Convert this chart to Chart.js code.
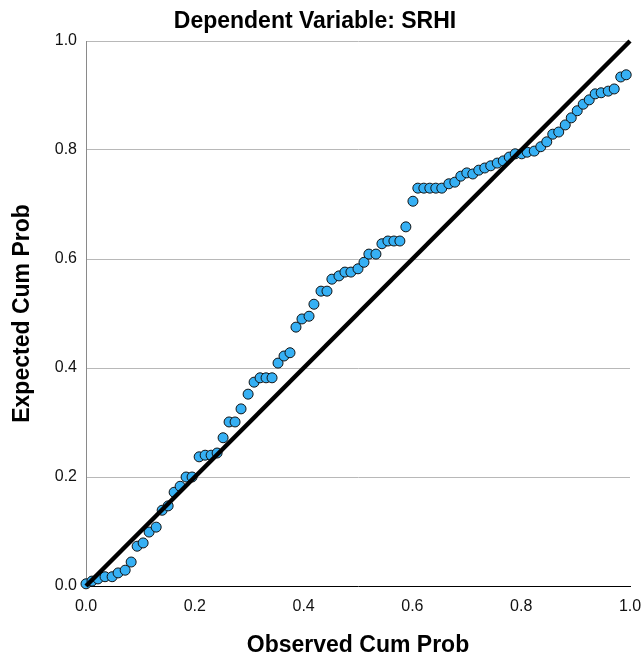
<!DOCTYPE html>
<html>
<head>
<meta charset="utf-8">
<script src="https://cdn.jsdelivr.net/npm/chart.js@4/dist/chart.umd.min.js"></script>
<style>
  html, body { margin: 0; padding: 0; background: #fff; }
  #wrap { width: 644px; height: 663px; }
</style>
</head>
<body>
<div id="wrap"><canvas id="pp"></canvas></div>
<script>
// P-P plot of the regression residuals
const observed = [
  0.000, 0.011, 0.022, 0.035, 0.048, 0.059, 0.072, 0.083, 0.094, 0.105,
  0.116, 0.129, 0.140, 0.151, 0.162, 0.173, 0.184, 0.195, 0.208, 0.219,
  0.230, 0.241, 0.252, 0.263, 0.274, 0.285, 0.298, 0.309, 0.320, 0.331,
  0.342, 0.353, 0.364, 0.375, 0.386, 0.397, 0.410, 0.419, 0.432, 0.443,
  0.452, 0.465, 0.476, 0.487, 0.500, 0.511, 0.520, 0.533, 0.544, 0.555,
  0.566, 0.577, 0.588, 0.601, 0.610, 0.621, 0.632, 0.643, 0.654, 0.667,
  0.678, 0.689, 0.700, 0.711, 0.722, 0.733, 0.744, 0.756, 0.767, 0.778,
  0.789, 0.801, 0.811, 0.824, 0.836, 0.847, 0.858, 0.869, 0.881, 0.892,
  0.903, 0.914, 0.925, 0.936, 0.947, 0.960, 0.971, 0.983, 0.993
];
const expected = [
  0.004, 0.009, 0.013, 0.017, 0.017, 0.024, 0.029, 0.044, 0.073, 0.079,
  0.099, 0.108, 0.139, 0.147, 0.172, 0.183, 0.200, 0.200, 0.237, 0.240,
  0.240, 0.244, 0.272, 0.301, 0.301, 0.325, 0.352, 0.374, 0.382, 0.382,
  0.382, 0.409, 0.422, 0.428, 0.475, 0.490, 0.495, 0.517, 0.541, 0.541,
  0.563, 0.569, 0.576, 0.576, 0.582, 0.594, 0.609, 0.609, 0.628, 0.633,
  0.633, 0.633, 0.659, 0.706, 0.730, 0.730, 0.730, 0.730, 0.730, 0.738,
  0.741, 0.752, 0.758, 0.756, 0.763, 0.767, 0.771, 0.776, 0.780, 0.787,
  0.793, 0.793, 0.796, 0.798, 0.806, 0.815, 0.829, 0.833, 0.846, 0.859,
  0.872, 0.884, 0.892, 0.903, 0.905, 0.908, 0.912, 0.934, 0.938
];
const refLineX = [0, 1];
const refLineY = [0, 1];

const points = observed.map((x, i) => ({ x: x, y: expected[i] }));
const refLine = refLineX.map((x, i) => ({ x: x, y: refLineY[i] }));

const fam = 'Liberation Sans, Arial, sans-serif';

new Chart(document.getElementById('pp'), {
  type: 'scatter',
  data: {
    datasets: [
      {
        type: 'line',
        data: refLine,
        borderColor: '#000',
        borderWidth: 4.5,
        pointRadius: 0,
        order: 0,
        clip: false
      },
      {
        data: points,
        backgroundColor: '#36b0f4',
        borderColor: '#111',
        borderWidth: 1,
        pointRadius: 5,
        order: 1,
        clip: false
      }
    ]
  },
  options: {
    responsive: true,
    maintainAspectRatio: false,
    animation: false,
    events: [],
    layout: { padding: { left: 0, right: 14, top: 0, bottom: 0 } },
    plugins: {
      legend: { display: false },
      tooltip: { enabled: false },
      title: {
        display: true,
        text: 'Dependent Variable: SRHI',
        color: '#000',
        font: { family: fam, size: 23, weight: 'bold' },
        padding: { top: 8, bottom: 5.4 }
      }
    },
    scales: {
      x: {
        type: 'linear',
        min: 0, max: 1,
        afterFit: s => { s.height = 77; s.paddingRight = 0; s.paddingLeft = 0; },
        grid: { display: false, drawTicks: false },
        border: { display: true, color: '#000', width: 1 },
        ticks: {
          stepSize: 0.2,
          padding: 11,
          color: '#111',
          font: { family: fam, size: 16 },
          callback: v => v.toFixed(1)
        },
        title: {
          display: true,
          text: 'Observed Cum Prob',
          color: '#000',
          font: { family: fam, size: 23, weight: 'bold' },
          padding: { top: 0, bottom: 4 }
        }
      },
      y: {
        type: 'linear',
        min: 0, max: 1,
        afterFit: s => { s.width = 86; },
        grid: {
          drawTicks: false,
          color: ctx => ctx.tick && ctx.tick.value === 0 ? 'rgba(0,0,0,0)' : '#b8b8b8',
          lineWidth: 1
        },
        border: { display: true, color: '#8a8a8a', width: 1 },
        ticks: {
          stepSize: 0.2,
          padding: 9,
          color: '#111',
          font: { family: fam, size: 16 },
          callback: v => v.toFixed(1)
        },
        title: {
          display: true,
          text: 'Expected Cum Prob',
          color: '#000',
          font: { family: fam, size: 23, weight: 'bold' },
          padding: { top: 9, bottom: 0 }
        }
      }
    }
  }
});
</script>
</body>
</html>
